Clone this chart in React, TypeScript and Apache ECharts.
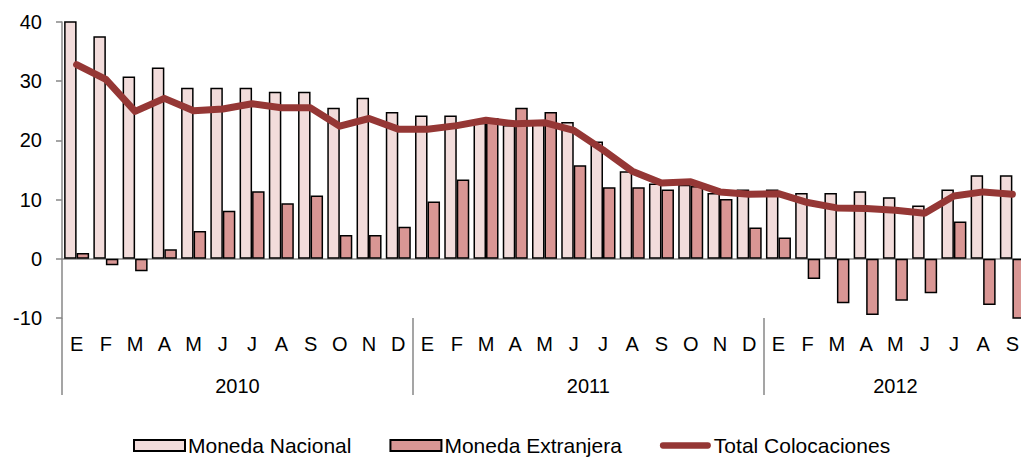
import React, { useEffect, useRef } from "react";
import * as echarts from "echarts";

const months = [
  "E", "F", "M", "A", "M", "J", "J", "A", "S", "O", "N", "D",
  "E", "F", "M", "A", "M", "J", "J", "A", "S", "O", "N", "D",
  "E", "F", "M", "A", "M", "J", "J", "A", "S",
];
const years = ["2010", "2011", "2012"];
const yearCenters = [6, 18, 28.5];

const monedaNacional = [
  42, 37.6, 30.8, 32.3, 28.9, 28.9, 28.9, 28.2, 28.2, 25.5, 27.2, 24.8,
  24.2, 24.2, 23.0, 22.6, 22.8, 23.1, 19.8, 14.8, 12.7, 12.5, 11.1, 11.7,
  11.7, 11.1, 11.1, 11.4, 10.4, 9.0, 11.7, 14.1, 14.1,
];
const monedaExtranjera = [
  1.0, -1.1, -2.1, 1.6, 4.7, 8.1, 11.4, 9.4, 10.7, 4.0, 4.0, 5.4,
  9.7, 13.4, 23.8, 25.5, 24.8, 15.8, 12.1, 12.1, 11.7, 12.3, 10.1, 5.3,
  3.6, -3.4, -7.5, -9.5, -7.1, -5.8, 6.3, -7.8, -10.6,
];
const totalColocaciones = [
  32.8, 30.3, 24.9, 27.1, 25.0, 25.3, 26.2, 25.5, 25.5, 22.4, 23.7, 21.9,
  21.9, 22.5, 23.4, 22.8, 23.0, 21.7, 18.4, 14.8, 12.8, 13.0, 11.3, 10.9,
  11.0, 9.5, 8.6, 8.5, 8.2, 7.7, 10.6, 11.3, 10.9,
];

const FONT = "'Liberation Sans', Arial, sans-serif";
const AXIS_GRAY = "#878787";
const LINE_ICON = "path://M3.5,0 H53.5 A3.5,3.5 0 0 1 53.5,7 H3.5 A3.5,3.5 0 0 1 3.5,0 Z";

export default function App() {
  const ref = useRef<HTMLDivElement>(null);
  useEffect(() => {
    if (!ref.current) return;
    const chart = echarts.init(ref.current, null, { renderer: "svg" });
    chart.setOption({
      animation: false,
      textStyle: { fontFamily: FONT, color: "#000" },
      grid: { left: 62, top: 22, width: 965, height: 296, outerBoundsMode: "none", containLabel: false },
      legend: {
        left: 128,
        top: 430,
        itemWidth: 51,
        itemHeight: 11,
        itemGap: 38,
        textStyle: { fontSize: 21, lineHeight: 21, fontFamily: FONT, color: "#000", padding: [0, 0, 0, -2] },
        data: [
          { name: "Moneda Nacional", icon: "rect" },
          { name: "Moneda Extranjera", icon: "rect" },
          { name: "Total Colocaciones", icon: LINE_ICON },
        ],
      },
      xAxis: [
        {
          type: "category",
          data: months,
          position: "bottom",
          axisLine: { onZero: true, lineStyle: { color: AXIS_GRAY, width: 1.5 } },
          axisTick: { show: false },
          axisLabel: { show: false },
          splitLine: { show: false },
        },
        {
          type: "category",
          data: months,
          position: "bottom",
          axisLine: { show: false, onZero: false },
          axisTick: {
            show: true,
            interval: (index: number) => index % 12 === 0,
            length: 77,
            lineStyle: { color: AXIS_GRAY, width: 1.5 },
          },
          axisLabel: {
            show: true,
            interval: 0,
            margin: 16,
            fontSize: 20,
            fontFamily: FONT,
            color: "#000",
          },
          splitLine: { show: false },
        },
        {
          type: "value",
          min: 0,
          max: 33,
          interval: 0.5,
          position: "bottom",
          axisLine: { show: false, onZero: false },
          axisTick: { show: false },
          splitLine: { show: false },
          axisLabel: {
            show: true,
            margin: 58,
            fontSize: 20,
            fontFamily: FONT,
            color: "#000",
            showMinLabel: true,
            showMaxLabel: true,
            formatter: (v: number) => {
              const i = yearCenters.indexOf(v);
              return i >= 0 ? years[i] : "";
            },
          },
        },
      ],
      yAxis: {
        type: "value",
        min: -10,
        max: 40,
        interval: 10,
        axisLine: { show: true, lineStyle: { color: AXIS_GRAY, width: 1.5 } },
        axisTick: { show: true, length: 6, lineStyle: { color: AXIS_GRAY, width: 1.5 } },
        axisLabel: { margin: 20, fontSize: 20, fontFamily: FONT, color: "#000" },
        splitLine: { show: false },
      },
      series: [
        {
          name: "Moneda Nacional",
          type: "bar",
          xAxisIndex: 0,
          data: monedaNacional,
          barWidth: 12.5,
          barGap: "0%",
          clip: true,
          itemStyle: { color: "#F2DCDB", borderColor: "#000", borderWidth: 1.5 },
        },
        {
          name: "Moneda Extranjera",
          type: "bar",
          xAxisIndex: 0,
          data: monedaExtranjera,
          barWidth: 12.5,
          barGap: "0%",
          clip: true,
          itemStyle: { color: "#D99694", borderColor: "#000", borderWidth: 1.5 },
        },
        {
          name: "Total Colocaciones",
          type: "line",
          xAxisIndex: 0,
          data: totalColocaciones,
          symbol: "none",
          z: 5,
          lineStyle: { color: "#953735", width: 7, cap: "round", join: "round" },
          itemStyle: { color: "#953735" },
        },
      ],
    });
    return () => chart.dispose();
  }, []);
  return (
    <div
      ref={ref}
      style={{ position: "absolute", left: 0, top: 0, width: 1021, height: 459 }}
    />
  );
}
